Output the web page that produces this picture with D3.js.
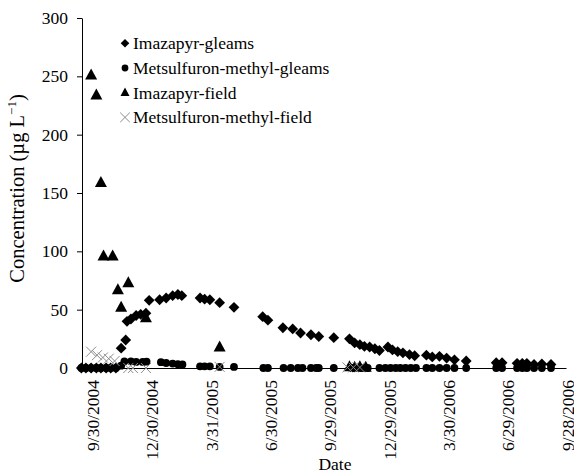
<!DOCTYPE html>
<html>
<head>
<meta charset="utf-8">
<script src="https://cdn.jsdelivr.net/npm/d3@7"></script>
<style>
  body { margin: 0; background: #fff; }
</style>
</head>
<body>
<svg class="chart"></svg>
<script>
// Axis ticks
const tickDates = ['2004-09-30', '2004-12-30', '2005-03-31', '2005-06-30', '2005-09-29',
  '2005-12-29', '2006-03-30', '2006-06-29', '2006-09-28'];
const yTicks = [0, 50, 100, 150, 200, 250, 300];
const xExtent = ['2004-09-13', '2006-09-25'];

// Series: [date, concentration ug/L]
const imazapyrGleams = [
  ['2004-09-12', 0], ['2004-09-19', 0], ['2004-09-27', 0], ['2004-10-05', 0], ['2004-10-12', 0],
  ['2004-10-20', 0], ['2004-10-27', 0], ['2004-11-04', 0], ['2004-11-12', 17], ['2004-11-19', 24],
  ['2004-11-21', 40], ['2004-11-27', 42], ['2004-12-05', 45], ['2004-12-12', 46], ['2004-12-20', 47],
  ['2004-12-25', 58], ['2005-01-10', 58.5], ['2005-01-20', 60], ['2005-01-30', 62], ['2005-02-07', 63],
  ['2005-02-13', 62], ['2005-03-13', 60], ['2005-03-20', 59], ['2005-03-28', 58.5], ['2005-04-12', 56],
  ['2005-05-04', 52], ['2005-06-17', 44], ['2005-06-25', 41], ['2005-07-18', 34.5], ['2005-08-02', 33.5],
  ['2005-08-14', 30], ['2005-08-30', 28.5], ['2005-09-11', 27], ['2005-10-04', 26], ['2005-10-28', 25],
  ['2005-11-05', 21.5], ['2005-11-13', 20], ['2005-11-20', 18.5], ['2005-11-28', 18], ['2005-12-06', 16.5],
  ['2005-12-13', 15], ['2005-12-26', 18], ['2006-01-02', 15.5], ['2006-01-10', 14], ['2006-01-18', 13],
  ['2006-01-28', 11.5], ['2006-02-05', 10.5], ['2006-02-23', 11], ['2006-03-04', 9.5], ['2006-03-15', 10],
  ['2006-03-26', 8.5], ['2006-04-07', 7], ['2006-04-25', 6], ['2006-06-10', 4.5], ['2006-06-19', 4.5],
  ['2006-07-12', 4], ['2006-07-20', 4], ['2006-07-27', 4], ['2006-08-07', 3], ['2006-08-19', 3.5],
  ['2006-09-02', 3]
];

const metsulfuronGleams = [
  ['2004-09-12', 0], ['2004-09-19', 0], ['2004-09-27', 0], ['2004-10-05', 0], ['2004-10-12', 0],
  ['2004-10-20', 0], ['2004-10-27', 0], ['2004-11-04', 0], ['2004-11-12', 2], ['2004-11-17', 5.7],
  ['2004-11-27', 5.7], ['2004-12-05', 5.2], ['2004-12-15', 5.2], ['2004-12-21', 5.4], ['2005-01-12', 5],
  ['2005-01-20', 4.3], ['2005-01-30', 3.8], ['2005-02-07', 3.3], ['2005-02-14', 3], ['2005-03-13', 1.4],
  ['2005-03-20', 1.4], ['2005-03-28', 1.4], ['2005-04-12', 0.9], ['2005-05-04', 0.9], ['2005-06-18', 0],
  ['2005-06-25', 0], ['2005-07-19', 0], ['2005-07-30', 0], ['2005-08-10', 0], ['2005-08-17', 0],
  ['2005-08-30', 0], ['2005-09-07', 0], ['2005-09-11', 0], ['2005-10-04', 0], ['2005-11-02', 0],
  ['2005-11-16', 0], ['2005-11-25', 0], ['2005-12-13', 0], ['2005-12-22', 0], ['2005-12-30', 0],
  ['2006-01-07', 0], ['2006-01-14', 0], ['2006-01-22', 0], ['2006-01-30', 0], ['2006-02-07', 0],
  ['2006-02-23', 0], ['2006-03-04', 0], ['2006-03-15', 0], ['2006-03-26', 0], ['2006-04-07', 0],
  ['2006-04-25', 0], ['2006-06-10', 0], ['2006-06-19', 0], ['2006-07-12', 0], ['2006-07-20', 0],
  ['2006-07-27', 0], ['2006-08-07', 0], ['2006-08-19', 0], ['2006-09-02', 0]
];

const imazapyrField = [
  ['2004-09-27', 251], ['2004-10-05', 234], ['2004-10-12', 159], ['2004-10-16', 96], ['2004-10-30', 96],
  ['2004-11-07', 67], ['2004-11-12', 52], ['2004-11-23', 73], ['2004-12-20', 43], ['2005-04-12', 18],
  ['2005-10-28', 1], ['2005-11-05', 0.5], ['2005-11-13', 1], ['2005-11-22', 0.5]
];

const metsulfuronField = [
  ['2004-09-27', 14], ['2004-10-06', 11], ['2004-10-15', 9], ['2004-10-24', 8], ['2004-11-02', 6],
  ['2004-11-23', 0], ['2004-11-30', 0], ['2004-12-20', 0], ['2005-04-12', 1], ['2005-10-25', 0.5],
  ['2005-11-03', 0.5], ['2005-11-13', 0.5]
];

const seriesNames = ['Imazapyr-gleams', 'Metsulfuron-methyl-gleams', 'Imazapyr-field', 'Metsulfuron-methyl-field'];

// Set up SVG container
const svgWidth = 574;
const svgHeight = 473;
const margin = { top: 18, right: 8, bottom: 105, left: 82 };
const chartWidth = svgWidth - margin.left - margin.right;
const chartHeight = svgHeight - margin.top - margin.bottom;
const fontSize = '17.5px';
const serif = '"Liberation Serif", "DejaVu Serif", serif';

const parseDate = d3.utcParse('%Y-%m-%d');

const svg = d3.select('.chart')
  .attr('width', svgWidth)
  .attr('height', svgHeight)
  .attr('font-family', serif);

const chart = svg.append('g')
  .attr('transform', 'translate(' + margin.left + ',' + margin.top + ')');

const xScale = d3.scaleUtc()
  .domain(xExtent.map(parseDate))
  .range([0, chartWidth]);

const yScale = d3.scaleLinear()
  .domain([0, 300])
  .range([chartHeight, 0]);

// Marker shapes
function diamond(r) { return `M0,${-r}L${r},0L0,${r}L${-r},0Z`; }
function triangle(w, h) { return `M0,${-h * 0.6}L${w / 2},${h * 0.4}L${-w / 2},${h * 0.4}Z`; }
function cross(s) { return `M${-s},${-s}L${s},${s}M${-s},${s}L${s},${-s}`; }

// x axis
const xAxisGroup = chart.append('g')
  .attr('transform', 'translate(0,' + chartHeight + ')')
  .call(d3.axisBottom(xScale)
    .tickValues(tickDates.map(parseDate))
    .tickFormat(d3.utcFormat('%-m/%-d/%Y'))
    .tickSize(0)
    .tickSizeOuter(0))
  .attr('font-family', serif)
  .attr('font-size', fontSize);

xAxisGroup.select('.domain').attr('stroke', '#000');
xAxisGroup.selectAll('text')
  .attr('transform', 'rotate(-90)')
  .attr('text-anchor', 'end')
  .attr('x', -12)
  .attr('y', 0)
  .attr('dy', '0.3em')
  .attr('fill', '#000');

// y axis
const yAxisGroup = chart.append('g')
  .call(d3.axisLeft(yScale)
    .tickValues(yTicks)
    .tickSize(5)
    .tickPadding(9)
    .tickSizeOuter(0))
  .attr('font-family', serif)
  .attr('font-size', fontSize);

yAxisGroup.select('.domain').attr('stroke', '#000');
yAxisGroup.selectAll('line').attr('stroke', '#000');
yAxisGroup.selectAll('text').attr('fill', '#000');

// Data markers
const toXY = d => `translate(${xScale(parseDate(d[0]))},${yScale(d[1])})`;

chart.selectAll('path.imz-gleams')
  .data(imazapyrGleams)
  .join('path')
  .attr('class', 'imz-gleams')
  .attr('transform', toXY)
  .attr('d', diamond(5.4))
  .attr('fill', '#000');

chart.selectAll('circle.met-gleams')
  .data(metsulfuronGleams)
  .join('circle')
  .attr('class', 'met-gleams')
  .attr('transform', toXY)
  .attr('r', 3.9)
  .attr('fill', '#000');

chart.selectAll('path.imz-field')
  .data(imazapyrField)
  .join('path')
  .attr('class', 'imz-field')
  .attr('transform', toXY)
  .attr('d', triangle(12, 11))
  .attr('fill', '#000');

chart.selectAll('path.met-field')
  .data(metsulfuronField)
  .join('path')
  .attr('class', 'met-field')
  .attr('transform', toXY)
  .attr('d', cross(5))
  .attr('fill', 'none')
  .attr('stroke', '#8c8c8c')
  .attr('stroke-width', 1);

// Legend
const legend = chart.append('g')
  .attr('transform', 'translate(43, 25.3)');

const legendRows = legend.selectAll('g')
  .data(seriesNames)
  .join('g')
  .attr('transform', (d, i) => `translate(0, ${i * 24.7})`);

legendRows.each(function (d, i) {
  const row = d3.select(this);
  if (i === 0) row.append('path').attr('d', diamond(4.3)).attr('fill', '#000');
  if (i === 1) row.append('circle').attr('r', 3.4).attr('fill', '#000');
  if (i === 2) row.append('path').attr('d', triangle(9, 8.5)).attr('fill', '#000');
  if (i === 3) row.append('path').attr('d', cross(4.8)).attr('fill', 'none')
    .attr('stroke', '#8c8c8c').attr('stroke-width', 1);
  row.append('text')
    .attr('x', 8)
    .attr('y', 6)
    .attr('font-size', fontSize)
    .text(d);
});

// Axis titles
chart.append('text')
  .attr('x', 253)
  .attr('y', chartHeight + 102)
  .attr('text-anchor', 'middle')
  .attr('font-size', fontSize)
  .text('Date');

const yTitle = svg.append('text')
  .attr('transform', 'translate(24, 188.5) rotate(-90)')
  .attr('text-anchor', 'middle')
  .attr('font-size', '20.5px');
yTitle.append('tspan').text('Concentration (µg L');
yTitle.append('tspan').attr('dy', -8).attr('font-size', '13px').text('−1');
yTitle.append('tspan').attr('dy', 8).text(')');
</script>
</body>
</html>
